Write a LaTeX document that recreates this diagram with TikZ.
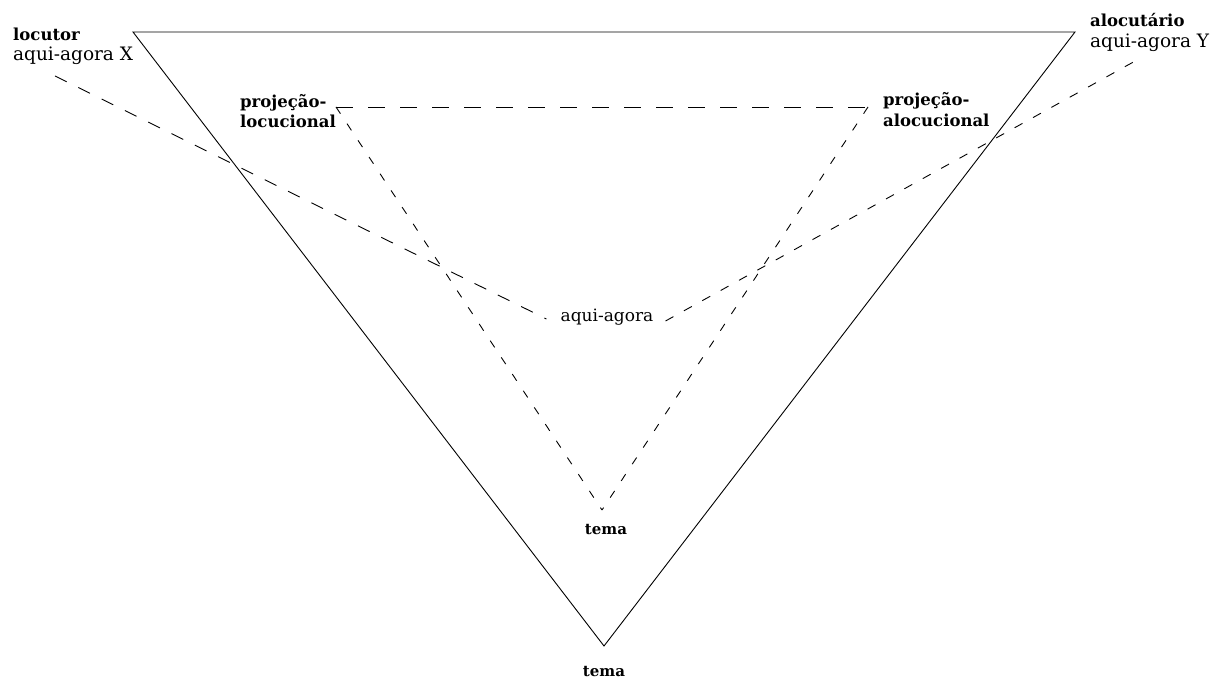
\documentclass[tikz,border=0pt]{standalone}
\usepackage{fontspec}
\setmainfont{DejaVu Serif}
\begin{document}
\begin{tikzpicture}[x=1pt,y=-1pt,
  lbl/.style={inner sep=0pt, anchor=base west, font=\fontsize{18.5}{20}\selectfont},
  blbl/.style={inner sep=0pt, anchor=base west, font=\fontsize{16.5}{20}\selectfont\bfseries},
  edge/.style={line width=0.9pt},
  longdash/.style={line width=0.9pt, dash pattern=on 17pt off 15pt},
  shortdash/.style={line width=0.9pt, dash pattern=on 8pt off 12pt},
  curvedash/.style={line width=0.9pt, dash pattern=on 13pt off 13pt},
  curvedashb/.style={line width=0.9pt, dash pattern=on 9pt off 12pt}]
\useasboundingbox (0,0) rectangle (1219,684);
\fill[white] (0,0) rectangle (1219,684);
% outer triangle corners
\coordinate (A) at (133,32);
\coordinate (B) at (1075,32);
\coordinate (C) at (604,646);
% inner triangle corners
\coordinate (P) at (336,107);
\coordinate (Q) at (868,107);
\coordinate (R) at (602,510);
% free ends of the aqui-agora line
\coordinate (L) at (55,76);
\coordinate (Rt) at (1137,60);
% labels
\node[blbl] (loc1) at (13,41) {locutor};
\node[lbl] (loc2) at (13,61) {aqui-agora X};
\node[blbl] (al1) at (1090,27) {alocutário};
\node[lbl] (al2) at (1090,48) {aqui-agora Y};
\node[blbl] (pl1) at (240,108) {projeção-};
\node[blbl] (pl2) at (240,128) {locucional};
\node[blbl] (pa1) at (883,106) {projeção-};
\node[blbl] (pa2) at (883,127) {alocucional};
\node[inner sep=0pt, font=\fontsize{17}{20}\selectfont] (aq) at (607,317) {aqui-agora};
\node[inner sep=0pt, font=\fontsize{15}{18}\selectfont\bfseries] (t1) at (606,530) {tema};
\node[inner sep=0pt, font=\fontsize{15}{18}\selectfont\bfseries] (t2) at (604,672) {tema};
% outer triangle
\draw[edge] (A) -- (B) -- (C) -- cycle;
% inner triangle
\draw[longdash] (P) -- (Q);
\draw[shortdash] (P) -- (R);
\draw[shortdash] (Q) -- (R);
% aqui-agora line
\draw[curvedash] (L) -- ([xshift=-14pt,yshift=-2pt]aq.west);
\draw[curvedashb] ([xshift=12pt,yshift=-4pt]aq.east) -- (Rt);
\end{tikzpicture}
\end{document}
